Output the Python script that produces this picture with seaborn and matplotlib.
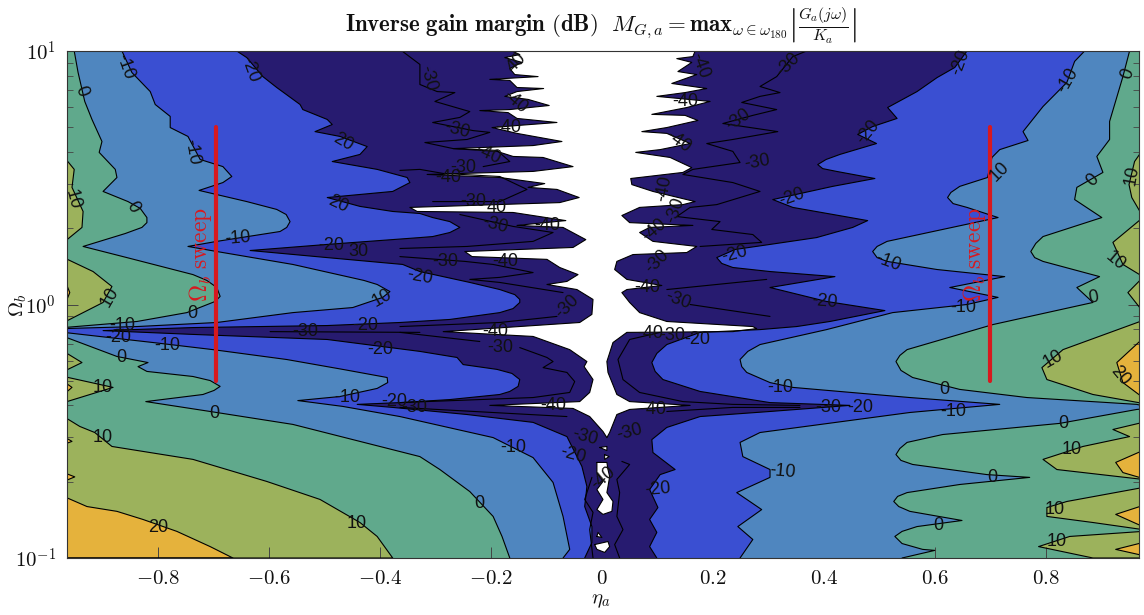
import numpy as np
import matplotlib
matplotlib.use("Agg")
import matplotlib.pyplot as plt
import seaborn as sns

# Contour boundaries: (eta_a, log10 Omega_b), top to bottom
z0_left = [(-.951,1.0),(-.944,.915),(-.932,.801),(-.919,.730),(-.901,.643),(-.906,.600),(-.877,.533),(-.874,.501),(-.899,.446),(-.854,.406),(-.832,.379),(-.820,.343),(-.820,.323),(-.829,.304),(-.859,.280),(-.935,.229),(-.856,.185),(-.737,.118),(-.712,.095),(-.694,.067),(-.688,.032),(-.697,.012),(-.748,-.032),(-.838,-.067),(-.97,-.091),(-.97,-.126),(-.874,-.205),(-.818,-.229),(-.836,-.245),(-.820,-.264),(-.737,-.284),(-.706,-.300),(-.688,-.323),(-.699,-.339),(-.719,-.355),(-.822,-.383),(-.706,-.422),(-.557,-.473),(-.328,-.600),(-.292,-.651),(-.238,-.738),(-.196,-.836),(-.180,-.915),(-.166,-1.0)]
z0_right = [(.951,1.0),(.939,.899),(.915,.722),(.915,.651),(.892,.584),(.903,.521),(.856,.462),(.852,.414),(.901,.343),(.795,.268),(.782,.241),(.773,.209),(.780,.185),(.795,.170),(.897,.110),(.856,.067),(.885,.008),(.705,-.079),(.550,-.178),(.537,-.201),(.530,-.225),(.539,-.260),(.560,-.288),(.645,-.335),(.766,-.367),(.964,-.394),(.975,-.40),(.975,-.412),(.964,-.414),(.825,-.469),(.614,-.513),(.550,-.544),(.537,-.568),(.530,-.592),(.539,-.615),(.560,-.631),(.694,-.671),(.771,-.682),(.645,-.710),(.550,-.742),(.533,-.757),(.526,-.777),(.535,-.797),(.555,-.816),(.649,-.852),(.568,-.876),(.541,-.895),(.528,-.915),(.541,-.943),(.578,-.966),(.600,-.970),(.541,-1.0)]
z10m_left = [(-.865,1.0),(-.847,.915),(-.814,.840),(-.805,.789),(-.778,.742),(-.778,.698),(-.746,.663),(-.724,.572),(-.683,.544),(-.667,.505),(-.683,.481),(-.726,.450),(-.640,.406),(-.586,.375),(-.569,.355),(-.562,.327),(-.568,.304),(-.580,.288),(-.694,.249),(-.746,.229),(-.694,.209),(-.557,.158),(-.429,.095),(-.405,.079),(-.382,.051),(-.395,.028),(-.449,-.012),(-.557,-.032),(-.694,-.071),(-.838,-.087),(-.97,-.095),(-.97,-.110),(-.809,-.150),(-.701,-.178),(-.568,-.217),(-.467,-.256),(-.387,-.288),(-.386,-.308),(-.405,-.331),(-.472,-.363),(-.548,-.379),(-.467,-.402),(-.364,-.442),(-.196,-.525),(-.124,-.604),(-.088,-.702),(-.070,-.836),(-.058,-.966),(-.070,-1.0)]
z10m_right = [(.870,1.0),(.852,.959),(.838,.876),(.795,.781),(.759,.682),(.768,.647),(.717,.611),(.703,.580),(.695,.501),(.645,.466),(.629,.442),(.623,.422),(.633,.398),(.658,.383),(.714,.343),(.614,.296),(.514,.249),(.496,.229),(.488,.209),(.496,.185),(.514,.170),(.604,.138),(.726,.110),(.627,.067),(.714,.028),(.658,0),(.524,-.032),(.405,-.099),(.285,-.158),(.263,-.185),(.249,-.217),(.252,-.245),(.261,-.268),(.303,-.308),(.344,-.327),(.555,-.367),(.717,-.394),(.555,-.426),(.285,-.505),(.249,-.544),(.254,-.600),(.303,-.651),(.303,-.682),(.243,-.742),(.288,-.809),(.245,-.876),(.272,-.927),(.249,-1.0)]
z20m_left = [(-.658,1.0),(-.640,.974),(-.611,.899),(-.586,.856),(-.544,.789),(-.539,.769),(-.495,.730),(-.486,.710),(-.517,.682),(-.472,.663),(-.423,.623),(-.436,.592),(-.486,.564),(-.405,.533),(-.351,.501),(-.346,.481),(-.377,.446),(-.495,.422),(-.436,.387),(-.377,.367),(-.328,.359),(-.305,.343),(-.274,.327),(-.256,.304),(-.274,.284),(-.305,.268),(-.328,.264),(-.495,.237),(-.634,.213),(-.495,.185),(-.359,.158),(-.328,.130),(-.238,.087),(-.184,.059),(-.157,.039),(-.148,.020),(-.148,.008),(-.160,-.016),(-.184,-.032),(-.274,-.059),(-.364,-.071),(-.495,-.083),(-.737,-.091),(-.899,-.103),(-.737,-.118),(-.495,-.138),(-.328,-.185),(-.261,-.209),(-.250,-.237),(-.189,-.256),(-.162,-.272),(-.148,-.296),(-.151,-.323),(-.166,-.343),(-.184,-.355),(-.274,-.375),(-.364,-.387),(-.441,-.394),(-.377,-.406),(-.243,-.434),(-.124,-.465),(-.063,-.521),(-.036,-.639),(-.027,-.718),(-.031,-.797),(-.018,-.876),(-.018,-.939),(-.031,-1.0)]
z20m_right = [(.658,1.0),(.636,.935),(.604,.895),(.568,.840),(.515,.777),(.532,.734),(.488,.702),(.461,.671),(.495,.635),(.429,.592),(.404,.572),(.389,.552),(.398,.536),(.423,.525),(.492,.497),(.416,.466),(.308,.414),(.344,.383),(.479,.331),(.452,.304),(.387,.264),(.303,.237),(.240,.217),(.207,.185),(.216,.162),(.236,.146),(.303,.130),(.420,.110),(.303,.067),(.405,.012),(.510,-.024),(.411,-.067),(.351,-.087),(.285,-.099),(.177,-.110),(.117,-.158),(.099,-.193),(.090,-.229),(.096,-.264),(.110,-.296),(.177,-.343),(.303,-.387),(.447,-.398),(.375,-.410),(.303,-.422),(.177,-.442),(.117,-.485),(.090,-.533),(.092,-.584),(.132,-.651),(.105,-.671),(.086,-.730),(.101,-.801),(.086,-.848),(.099,-.899),(.086,-.955),(.099,-1.0)]
z40m_left = [(-.162,1.0),(-.148,.986),(-.175,.974),(-.144,.955),(-.166,.931),(-.157,.907),(-.115,.899),(-.202,.888),(-.166,.884),(-.153,.856),(-.105,.852),(-.153,.840),(-.175,.821),(-.133,.809),(-.095,.785),(-.166,.769),(-.220,.765),(-.169,.757),(-.153,.734),(-.081,.718),(-.153,.706),(-.198,.698),(-.153,.675),(-.072,.643),(-.124,.627),(-.268,.615),(-.189,.604),(-.160,.584),(-.106,.580),(-.052,.544),(-.124,.525),(-.315,.513),(-.184,.501),(-.103,.477),(-.133,.462),(-.081,.454),(-.041,.422),(-.076,.402),(-.346,.383),(-.333,.367),(-.160,.363),(-.065,.331),(-.153,.312),(-.070,.304),(-.029,.256),(-.052,.225),(-.247,.209),(-.234,.189),(-.099,.178),(-.076,.146),(-.043,.118),(-.063,.091),(-.099,.079),(-.045,.059),(-.016,.020),(-.018,-.039),(-.040,-.071),(-.286,-.107),(-.124,-.126),(-.058,-.178),(-.027,-.225),(-.032,-.245),(-.016,-.296),(-.022,-.347),(-.040,-.383),(-.202,-.398),(-.052,-.410),(-.022,-.442),(.002,-.501),(.009,-.525)]
z40m_right = [(.168,1.0),(.164,.978),(.135,.970),(.162,.955),(.137,.919),(.171,.907),(.126,.872),(.189,.852),(.150,.836),(.099,.821),(.195,.801),(.153,.777),(.090,.750),(.150,.746),(.173,.726),(.117,.698),(.072,.682),(.117,.675),(.159,.635),(.105,.611),(.061,.600),(.123,.580),(.162,.540),(.146,.521),(.052,.497),(.054,.473),(.092,.446),(.168,.406),(.146,.394),(.068,.383),(.036,.351),(.050,.323),(.164,.312),(.086,.304),(.068,.284),(.092,.249),(.171,.229),(.153,.205),(.056,.197),(.027,.170),(.023,.138),(.045,.099),(.108,.075),(.045,.059),(.036,.047),(.050,.008),(.068,-.032),(.117,-.067),(.272,-.087),(.279,-.095),(.236,-.107),(.045,-.110),(.020,-.150),(.009,-.225),(.011,-.268),(.027,-.355),(.050,-.383),(.159,-.398),(.050,-.414),(.027,-.434),(.014,-.505),(.009,-.525)]

z40m_islets = [
    [(-.004,-.564),(.009,-.560),(.009,-.576)],
    [(.005,-.592),(.013,-.600),(.005,-.611)],
    [(-.009,-.623),(.009,-.623),(.011,-.651),(.014,-.679),(.011,-.718),(.009,-.742),(.020,-.777),(.018,-.816),(.002,-.828),(-.009,-.809),(.002,-.769),(-.009,-.730),(.002,-.698),(-.009,-.663)],
    [(-.009,-.915),(0,-.919),(-.007,-.899)],
    [(-.013,-.947),(.011,-.935),(.014,-.955),(.005,-.978),(-.009,-.966)],
]
z10_patches = [
    [(-.97,.584),(-.951,.533),(-.955,.462),(-.935,.367),(-.937,.304),(-.97,.245)],
    [(-.97,.185),(-.917,.130),(-.883,.071),(-.899,.008),(-.97,-.071)],
    [(-.97,-.185),(-.937,-.229),(-.97,-.264)],
    [(-.97,-.284),(-.881,-.327),(-.97,-.387)],
    [(-.97,-.442),(-.941,-.481),(-.914,-.505),(-.883,-.560),(-.737,-.611),(-.604,-.698),(-.508,-.769),(-.436,-.860),(-.405,-.915),(-.377,-1.0),(-.97,-1.0)],
    [(.975,.611),(.960,.564),(.950,.473),(.955,.422),(.975,.347)],
    [(.975,.343),(.921,.245),(.939,.158),(.975,.110)],
    [(.975,.107),(.948,.047),(.975,-.028)],
    [(.975,-.063),(.831,-.178),(.793,-.249),(.802,-.296),(.885,-.355),(.975,-.39)],
    [(.975,-.465),(.921,-.493),(.951,-.521),(.867,-.560),(.795,-.611),(.820,-.651),(.975,-.690)],
    [(.975,-.722),(.838,-.777),(.802,-.801),(.802,-.836),(.885,-.860),(.975,-.888)],
    [(.975,-.895),(.843,-.915),(.787,-.955),(.885,-1.0),(.975,-1.0)],
]
z20_patches = [
    [(-.97,.107),(-.959,.047),(-.97,-.012)],
    [(-.97,-.304),(-.955,-.327),(-.97,-.355)],
    [(-.97,-.521),(-.955,-.54),(-.97,-.552)],
    [(-.97,-.663),(-.95,-.68),(-.97,-.698)],
    [(-.97,-.757),(-.928,-.797),(-.874,-.816),(-.827,-.848),(-.766,-.895),(-.706,-.955),(-.665,-1.0),(-.97,-1.0)],
    [(.975,-.134),(.928,-.229),(.939,-.308),(.975,-.367)],
    [(.975,-.576),(.926,-.623),(.939,-.663),(.975,-.686)],
    [(.975,-.793),(.926,-.828),(.975,-.876)],
    [(.975,-.939),(.926,-.966),(.975,-.990)],
]
z30m_lines = [
    [(-.359,.998),(-.328,.947),(-.328,.868),(-.297,.840),(-.265,.836),(-.301,.801),(-.238,.761),(-.256,.738),(-.305,.718),(-.232,.686),(-.202,.679),(-.243,.651),(-.319,.639),(-.268,.615),(-.189,.608),(-.166,.564),(-.214,.544)],
    [(-.364,.529),(-.328,.533),(-.286,.517),(-.184,.505),(-.135,.454),(-.184,.406),(-.256,.406),(-.305,.406)],
    [(-.256,.355),(-.160,.308),(-.088,.284),(-.124,.249),(-.243,.229),(-.364,.221)],
    [(-.364,.189),(-.247,.170),(-.196,.158),(-.124,.126),(-.184,.107),(-.238,.099),(-.184,.087),(-.070,.047)],
    [(-.364,-.087),(-.184,-.071),(-.081,-.047)],
    [(-.364,-.110),(-.220,-.146)],
    [(-.148,-.170),(-.099,-.209),(-.088,-.225),(-.106,-.249),(-.063,-.268),(-.049,-.304),(-.058,-.347),(-.124,-.367),(-.364,-.387)],
    [(-.598,-.107),(-.328,-.110)],
    [(-.364,-.406),(-.063,-.442)],
    [(.117,.059),(.297,.099)],
    [(.159,0),(.303,-.047)],
    [(.105,-.110),(.050,-.138),(.029,-.217),(.038,-.296),(.068,-.347),(.146,-.383),(.236,-.394),(.357,-.398)],
    [(.117,-.422),(.236,-.406),(.357,-.406)],
    [(.036,-.619),(.050,-.631),(.027,-.690),(.032,-.742),(.027,-.836),(.038,-.888),(.023,-.947),(.032,-1.0)],
    [(-.018,-.682),(-.031,-.769),(-.016,-.820),(-.022,-.888),(-.016,-1.0)],
    [(.369,1.0),(.344,.978),(.315,.899),(.285,.860),(.321,.836),(.285,.821),(.252,.797),(.315,.769),(.272,.746),(.218,.714),(.317,.682),(.236,.651),(.189,.635),(.236,.604),(.249,.560),(.164,.533),(.146,.513),(.236,.481),(.285,.446),(.207,.394),(.159,.383),(.135,.347),(.213,.327),(.198,.296),(.272,.276),(.288,.245),(.177,.229)],
]
sweep_etas = [-0.696, 0.70]
sweep_exps = [0.70, -0.30]
xtick_values = [-0.8, -0.6, -0.4, -0.2, 0, 0.2, 0.4, 0.6, 0.8]
xtick_labels = ["$-0.8$", "$-0.6$", "$-0.4$", "$-0.2$", "$0$", "$0.2$", "$0.4$", "$0.6$", "$0.8$"]
ytick_values = [0.1, 1, 10]
ytick_labels = ["$10^{-1}$", "$10^{0}$", "$10^{1}$"]
# contour label text, pixel x, pixel y, rotation
contour_labels = [
 ("-10",125,67,-70),("0",81,91,-70),("-10",192,152,-80),("10",73,200,-75),("0",133,207,-60),("-10",238,238,5),("-20",331,246,0),("30",358,252,0),
 ("-20",250,70,-70),("20",343,142,-30),("20",338,204,-25),("10",110,297,60),("10",382,298,30),("0",192,313,0),("-10",122,325,0),("-20",118,337,0),
 ("-10",167,345,0),("0",121,357,0),("10",103,387,0),("0",214,414,0),("10",103,438,0),("20",158,527,0),("10",357,523,0),("-30",305,332,0),
 ("-20",365,326,0),("-20",380,350,0),("-10",347,397,0),("-20",394,402,0),("-30",414,407,0),
 ("-30",428,78,-75),("40",517,63,45),("-40",515,102,-40),("-30",457,130,-15),("-40",508,128,0),("-40",488,154,-25),("-30",463,168,0),("-40",448,178,0),
 ("-30",473,202,0),("40",497,207,0),("-30",495,225,-15),("-40",547,226,0),("-30",445,262,0),("-40",505,262,0),("-20",420,277,-10),("-30",567,307,45),
 ("-40",700,66,-70),("-40",685,102,0),("-40",678,142,-35),("-40",664,188,80),("-30",675,210,70),("-40",654,230,40),("-30",657,262,45),("-40",647,288,0),
 ("-30",678,300,-20),("-30",738,120,35),("-30",757,162,10),("-20",735,254,15),
 ("-40",495,331,0),("-30",500,347,0),("-40",553,405,0),("-40",653,409,0),("-40",650,334,0),("-30",672,336,0),("-20",697,340,0),
 ("-30",585,437,-15),("-30",630,432,15),("-20",573,455,-15),("-10",513,448,0),("-20",658,489,5),("0",479,503,0),("-40",603,478,40),
 ("-30",788,65,45),("-20",960,62,70),("-10",1068,80,60),("0",1128,74,70),("-20",868,132,50),("10",1000,172,45),("0",1093,180,45),("10",1132,175,80),
 ("-20",792,197,20),("-10",888,262,-20),("10",1115,261,-40),("-20",825,302,-5),("-10",963,307,0),("0",1093,298,10),
 ("-10",780,387,0),("-30",828,407,0),("-20",860,407,0),("-10",953,411,0),("0",944,389,0),("10",1053,359,30),("20",1120,376,-50),("0",1063,424,0),
 ("10",1072,450,0),("-10",783,472,-5),("0",992,477,0),("10",1055,509,0),("0",938,526,0),("10",1057,542,0),
]

GREEN, OLIVE, YELLOW = "#60a98c", "#9cb25c", "#e5b23c"
STEEL, ROYAL, NAVY = "#4f86bf", "#3a4fd2", "#271b70"
RED = "#d7191f"

sns.set_theme(style="ticks")
plt.rcParams["mathtext.fontset"] = "cm"
plt.rcParams["font.family"] = ["Liberation Sans", "DejaVu Sans"]

W, H = 1144, 615
fig = plt.figure(figsize=(W / 100, H / 100), dpi=100)
ax = fig.add_axes([67 / W, 1 - 558 / H, 1072 / W, 507 / H])
ax.set_yscale("log")
ax.set_facecolor(GREEN)


def xy(points):
    arr = np.array(points, dtype=float)
    return arr[:, 0], 10.0 ** arr[:, 1]


def outline(points):
    x, y = xy(points)
    sns.lineplot(x=x, y=y, sort=False, estimator=None, errorbar=None, color="black",
                 linewidth=0.8, ax=ax, legend=False, zorder=6)


def patch(points, color, z=2):
    x, y = xy(points)
    ax.fill(x, y, color=color, linewidth=0, zorder=z)
    outline(points + points[:1])


def central(left, right, color):
    x, y = xy(left + right[::-1])
    ax.fill(x, y, color=color, linewidth=0, zorder=3)
    outline(left)
    outline(right)


for p in z10_patches:
    patch(p, OLIVE, 2)
for p in z20_patches:
    patch(p, YELLOW, 2.5)
central(z0_left, z0_right, STEEL)
central(z10m_left, z10m_right, ROYAL)
central(z20m_left, z20m_right, NAVY)
central(z40m_left, z40m_right, "white")
for p in z40m_islets:
    patch(p, "white", 4)
for line in z30m_lines:
    outline(line)

for eta in sweep_etas:
    sns.lineplot(x=[eta, eta], y=[10.0 ** sweep_exps[0], 10.0 ** sweep_exps[1]], sort=False,
                 estimator=None, errorbar=None, color=RED, linewidth=3.0, ax=ax, legend=False, zorder=8)

ax.set_xlim(-0.964, 0.968)
ax.set_ylim(0.1, 10)
ax.set_xticks(xtick_values)
ax.set_xticklabels(xtick_labels)
ax.set_yticks(ytick_values)
ax.set_yticklabels(ytick_labels)
ax.tick_params(axis="both", which="major", direction="in", length=8, width=0.7, color="#444444",
               top=True, right=True, labelsize=15, pad=8, labelcolor="#111111")
ax.tick_params(axis="y", which="minor", direction="in", length=4, width=0.6, color="#444444", right=True, left=True,
               labelleft=False)
for s in ax.spines.values():
    s.set_linewidth(0.8)
    s.set_color("#333333")
    s.set_zorder(9)
ax.set_axisbelow(False)

for text, px, py, rot in contour_labels:
    fig.text(px / W, 1 - py / H, text, fontsize=13, rotation=rot, ha="center", va="center",
             color="#111111", rotation_mode="anchor", zorder=10)

for px in (200, 975):
    fig.text(px / W, 1 - 254 / H, r"$\Omega_b\ \mathrm{sweep}$", fontsize=17, rotation=90, color=RED,
             ha="center", va="center", zorder=10)

fig.text(601 / W, 1 - 26 / H,
         r"$\mathbf{Inverse\ gain\ margin\ (dB)}\ \ M_{G,a}=\mathbf{max}_{\omega\in\omega_{180}}\left|\frac{G_a(j\omega)}{K_a}\right|$",
         fontsize=16.5, ha="center", va="center", color="#111111")
fig.text(601 / W, 1 - 601 / H, r"$\eta_a$", fontsize=15, ha="center", va="center", color="#111111")
fig.text(18 / W, 1 - 305 / H, r"$\Omega_b$", fontsize=15, rotation=90, ha="center", va="center", color="#111111")

fig.savefig("out.png", dpi=100)
